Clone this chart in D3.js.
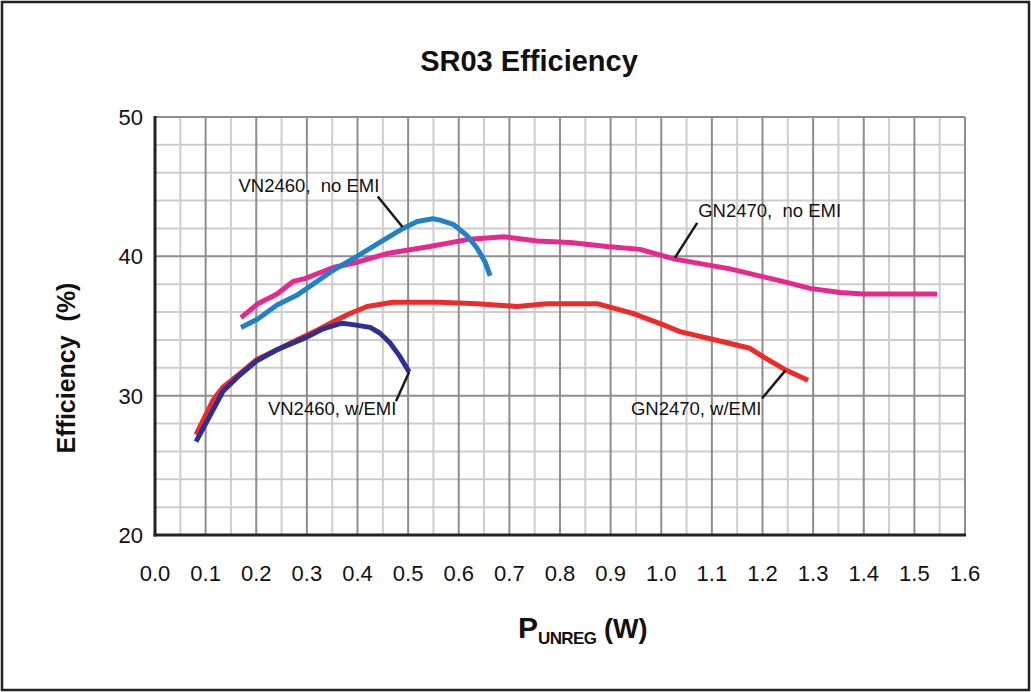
<!DOCTYPE html>
<html>
<head>
<meta charset="utf-8">
<script src="https://cdn.jsdelivr.net/npm/d3@7"></script>
<style>
  body { margin: 0; background: #fff; }
  svg { display: block; font-family: "Liberation Sans", Arial, sans-serif; }
</style>
</head>
<body>
<div id="container"></div>
<script>
// values (x = P unreg in W, y = efficiency %)
const gnNoEmiX = [0.170, 0.203, 0.241, 0.273, 0.296, 0.352, 0.391, 0.458, 0.543, 0.616, 0.689, 0.755, 0.820, 0.893, 0.958, 1.027, 1.136, 1.240, 1.294, 1.353, 1.399, 1.545]
const gnNoEmiY = [35.6, 36.6, 37.3, 38.2, 38.4, 39.2, 39.5, 40.2, 40.7, 41.2, 41.4, 41.1, 41.0, 40.7, 40.5, 39.8, 39.1, 38.2, 37.7, 37.4, 37.3, 37.3]

const vnNoEmiX = [0.170, 0.203, 0.241, 0.280, 0.352, 0.399, 0.444, 0.490, 0.518, 0.549, 0.563, 0.589, 0.616, 0.636, 0.652, 0.662]
const vnNoEmiY = [34.9, 35.5, 36.5, 37.2, 39.0, 40.0, 41.0, 42.0, 42.5, 42.7, 42.6, 42.3, 41.5, 40.6, 39.6, 38.6]

const gnEmiX = [0.081, 0.115, 0.134, 0.168, 0.201, 0.241, 0.280, 0.320, 0.352, 0.385, 0.419, 0.470, 0.563, 0.636, 0.715, 0.774, 0.873, 0.944, 1.003, 1.037, 1.130, 1.175, 1.201, 1.248, 1.290]
const gnEmiY = [27.2, 29.7, 30.6, 31.6, 32.6, 33.3, 34.0, 34.7, 35.3, 35.9, 36.4, 36.7, 36.7, 36.6, 36.4, 36.6, 36.6, 35.9, 35.1, 34.6, 33.8, 33.4, 32.8, 31.8, 31.1]

const vnEmiX = [0.081, 0.115, 0.134, 0.168, 0.201, 0.241, 0.280, 0.300, 0.332, 0.369, 0.391, 0.425, 0.444, 0.464, 0.484, 0.502]
const vnEmiY = [26.7, 29.0, 30.3, 31.5, 32.5, 33.3, 33.9, 34.2, 34.8, 35.2, 35.1, 34.9, 34.5, 33.8, 32.8, 31.7]

const xTicks = [0.0, 0.1, 0.2, 0.3, 0.4, 0.5, 0.6, 0.7, 0.8, 0.9, 1.0, 1.1, 1.2, 1.3, 1.4, 1.5, 1.6]
const yTicks = [20, 30, 40, 50]

const series = [
  { name: "GN2470, no EMI", xs: gnNoEmiX, ys: gnNoEmiY, color: "#e8288f" },
  { name: "VN2460, no EMI", xs: vnNoEmiX, ys: vnNoEmiY, color: "#2180c6" },
  { name: "GN2470, w/EMI", xs: gnEmiX, ys: gnEmiY, color: "#ed2b2b" },
  { name: "VN2460, w/EMI", xs: vnEmiX, ys: vnEmiY, color: "#2d2f92" }
]

// annotation labels: text, label anchor (data coords), leader line from / to
const notes = [
  { text: "VN2460,  no EMI", tx: 0.165, ty: 44.6, x1: 0.440, y1: 44.3, x2: 0.489, y2: 42.1 },
  { text: "GN2470,  no EMI", tx: 1.073, ty: 42.8, x1: 1.071, y1: 42.4, x2: 1.027, y2: 39.9 },
  { text: "VN2460, w/EMI", tx: 0.223, ty: 28.6, x1: 0.502, y1: 31.7, x2: 0.476, y2: 29.6 },
  { text: "GN2470, w/EMI", tx: 0.940, ty: 28.6, x1: 1.245, y1: 31.8, x2: 1.199, y2: 29.8 }
]

const width = 1031, height = 692
const margin = { left: 155, right: 66, top: 117, bottom: 157 }

const svg = d3.select("#container").append("svg")
    .attr("width", width)
    .attr("height", height)

svg.append("rect")
    .attr("x", 2).attr("y", 2)
    .attr("width", width - 4).attr("height", height - 4)
    .attr("fill", "#fff")
    .attr("stroke", "#222")
    .attr("stroke-width", 2.5)

const x = d3.scaleLinear().domain([0, 1.6]).range([margin.left, width - margin.right])
const y = d3.scaleLinear().domain([20, 50]).range([height - margin.bottom, margin.top])

const grid = svg.append("g")

// light grid first
grid.selectAll(".vminor")
    .data(d3.range(0.05, 1.6, 0.1))
    .enter().append("line")
    .attr("x1", d => x(d)).attr("x2", d => x(d))
    .attr("y1", y(20)).attr("y2", y(50))
    .attr("stroke", "#cdcdcd").attr("stroke-width", 2)

grid.selectAll(".hminor")
    .data(d3.range(22, 50, 2).filter(d => d % 10 != 0))
    .enter().append("line")
    .attr("x1", x(0)).attr("x2", x(1.6))
    .attr("y1", d => y(d)).attr("y2", d => y(d))
    .attr("stroke", "#cdcdcd").attr("stroke-width", 2)

grid.selectAll(".vmajor")
    .data(xTicks.slice(1))
    .enter().append("line")
    .attr("x1", d => x(d)).attr("x2", d => x(d))
    .attr("y1", y(20)).attr("y2", y(50))
    .attr("stroke", "#8e8e8e").attr("stroke-width", 2)

grid.selectAll(".hmajor")
    .data([30, 40, 50])
    .enter().append("line")
    .attr("x1", x(0)).attr("x2", x(1.6))
    .attr("y1", d => y(d)).attr("y2", d => y(d))
    .attr("stroke", "#8e8e8e").attr("stroke-width", 2)

// axes lines (left + bottom black)
svg.append("line")
    .attr("x1", x(0)).attr("x2", x(0))
    .attr("y1", y(50) - 1).attr("y2", y(20) + 1.5)
    .attr("stroke", "#222").attr("stroke-width", 3)
svg.append("line")
    .attr("x1", x(0) - 1.5).attr("x2", x(1.6) + 1)
    .attr("y1", y(20)).attr("y2", y(20))
    .attr("stroke", "#222").attr("stroke-width", 3)

// tick labels
svg.append("g").selectAll("text")
    .data(xTicks)
    .enter().append("text")
    .attr("x", d => x(d))
    .attr("y", y(20) + 46)
    .attr("text-anchor", "middle")
    .attr("font-size", 22)
    .attr("fill", "#111")
    .text(d => d.toFixed(1))

svg.append("g").selectAll("text")
    .data(yTicks)
    .enter().append("text")
    .attr("x", x(0) - 12)
    .attr("y", d => y(d) + 8)
    .attr("text-anchor", "end")
    .attr("font-size", 22)
    .attr("fill", "#111")
    .text(d => d)

// curves
const line = d3.line()
    .x(d => x(d[0]))
    .y(d => y(d[1]))

svg.append("g").selectAll("path")
    .data(series)
    .enter().append("path")
    .attr("d", s => line(s.xs.map((v, i) => [v, s.ys[i]])))
    .attr("fill", "none")
    .attr("stroke", s => s.color)
    .attr("stroke-width", 5)
    .attr("stroke-linejoin", "round")

// annotations
const ann = svg.append("g")
ann.selectAll("line")
    .data(notes)
    .enter().append("line")
    .attr("x1", d => x(d.x1)).attr("y1", d => y(d.y1))
    .attr("x2", d => x(d.x2)).attr("y2", d => y(d.y2))
    .attr("stroke", "#1a1a1a").attr("stroke-width", 2.5)

ann.selectAll("text")
    .data(notes)
    .enter().append("text")
    .attr("x", d => x(d.tx))
    .attr("y", d => y(d.ty))
    .attr("font-size", 18.5)
    .attr("fill", "#111")
    .attr("xml:space", "preserve")
    .style("white-space", "pre")
    .text(d => d.text)

// titles
svg.append("text")
    .attr("x", 529).attr("y", 71)
    .attr("text-anchor", "middle")
    .attr("font-size", 29)
    .attr("font-weight", "bold")
    .attr("fill", "#111")
    .text("SR03 Efficiency")

svg.append("text")
    .attr("transform", "translate(75,368) rotate(-90)")
    .attr("text-anchor", "middle")
    .attr("font-size", 25)
    .attr("font-weight", "bold")
    .attr("fill", "#111")
    .style("white-space", "pre")
    .text("Efficiency  (%)")

const xl = svg.append("text")
    .attr("x", 518).attr("y", 638)
    .attr("font-weight", "bold")
    .attr("fill", "#111")
xl.append("tspan").attr("font-size", 30).text("P")
xl.append("tspan").attr("font-size", 17).attr("dy", 6).attr("letter-spacing", -0.6).text("UNREG")
xl.append("tspan").attr("font-size", 27).attr("dy", -6).text(" (W)")
</script>
</body>
</html>
